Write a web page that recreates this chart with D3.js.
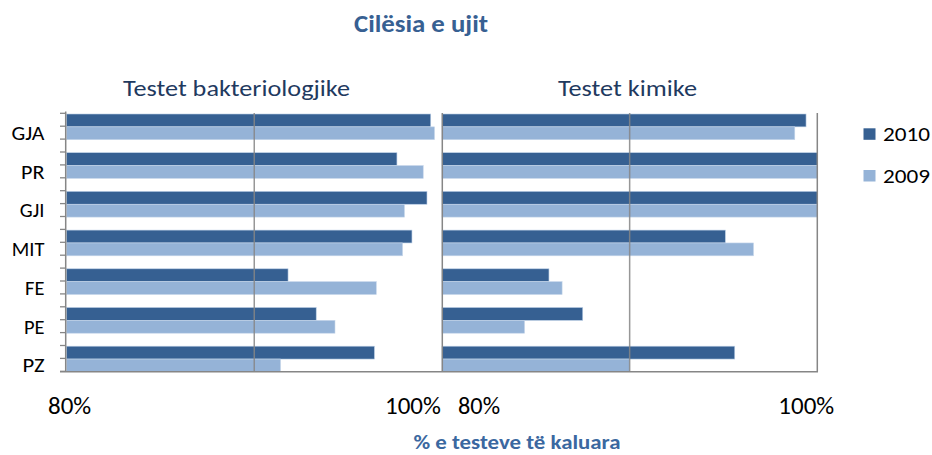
<!DOCTYPE html>
<html><head><meta charset="utf-8">
<script src="https://cdn.jsdelivr.net/npm/d3@7"></script>
<style>
html,body{margin:0;padding:0;background:#fff;}
svg{display:block;}
text{font-family:Carlito,Lato,"Liberation Sans",sans-serif;}
</style></head>
<body>
<script>
// ---- data ----
const categories = ["GJA","PR","GJI","MIT","FE","PE","PZ"];
const seriesNames = ["2010","2009"];
const bact2010 = [99.4, 97.6, 99.2, 98.4, 91.8, 93.3, 96.4];
const bact2009 = [99.6, 99.0, 98.0, 97.9, 96.5, 94.3, 91.4];
const chem2010 = [99.4, 100, 100, 95.1, 85.7, 87.5, 95.6];
const chem2009 = [98.8, 100, 100, 96.6, 86.4, 84.4, 90.0];
const xDomain = [80, 100];
const xTickLabels = ["80%", "100%"];
const panelTitles = ["Testet bakteriologjike", "Testet kimike"];
const chartTitle = "Cilësia e ujit";
const axisTitle = "% e testeve të kaluara";

const colors = {"2010":"#366092","2009":"#95B3D7"};
const W = 932, H = 455;
const plotTop = 113, plotBottom = 371.7;

const svg = d3.select("body").append("svg").attr("width", W).attr("height", H);

function fit(sel, w){
  sel.each(function(){
    const cur = this.getComputedTextLength();
    if (Math.abs(cur - w) > 1) d3.select(this).attr("textLength", w).attr("lengthAdjust","spacingAndGlyphs");
  });
  return sel;
}

const y = d3.scaleBand(categories, [107.5, 378.4]).paddingInner(0.336).paddingOuter(0.168);
const bh = y.bandwidth()/2;

const panels = [
  {x: d3.scaleLinear(xDomain, [66.5, 442]), s2010: bact2010, s2009: bact2009, title: panelTitles[0], tcx: 236.5, tw: 227},
  {x: d3.scaleLinear(xDomain, [442, 817.3]), s2010: chem2010, s2009: chem2009, title: panelTitles[1], tcx: 627.5, tw: 139}
];

svg.append("defs").append("clipPath").attr("id","plotclip")
  .append("rect").attr("x",0).attr("y",plotTop).attr("width",W).attr("height",plotBottom-plotTop);

const gray = "#868686";

panels.forEach((p, pi) => {
  const g = svg.append("g").attr("clip-path","url(#plotclip)");
  const rows = categories.map((c,i)=>({c, v2010:p.s2010[i], v2009:p.s2009[i]}));
  g.selectAll(".b10").data(rows).join("rect")
    .attr("x", p.x(80)).attr("y", d=>y(d.c))
    .attr("width", d=>p.x(d.v2010)-p.x(80)).attr("height", bh)
    .attr("fill", colors["2010"]).attr("stroke","#b9cde5").attr("stroke-width",0.6);
  g.selectAll(".b09").data(rows).join("rect")
    .attr("x", p.x(80)).attr("y", d=>y(d.c)+bh)
    .attr("width", d=>p.x(d.v2009)-p.x(80)).attr("height", bh)
    .attr("fill", colors["2009"]).attr("stroke","#c6d6ea").attr("stroke-width",0.6);
  svg.append("line").attr("x1",p.x(90)).attr("x2",p.x(90)).attr("y1",plotTop).attr("y2",plotBottom)
    .attr("stroke",gray).attr("stroke-width",1.5).attr("opacity",0.85);
  svg.append("text").attr("x",p.tcx).attr("y",96).attr("text-anchor","middle")
    .attr("font-size",23).attr("fill","#1F3A5F").text(p.title).call(fit, p.tw);
});

svg.append("line").attr("x1",65.7).attr("x2",65.7).attr("y1",111.5).attr("y2",plotBottom).attr("stroke",gray).attr("stroke-width",1.5);
svg.append("line").attr("x1",442.3).attr("x2",442.3).attr("y1",plotTop).attr("y2",plotBottom).attr("stroke",gray).attr("stroke-width",1.5);
svg.append("line").attr("x1",817.3).attr("x2",817.3).attr("y1",plotTop).attr("y2",plotBottom).attr("stroke",gray).attr("stroke-width",1.5);
svg.append("line").attr("x1",60).attr("x2",818).attr("y1",plotBottom).attr("y2",plotBottom).attr("stroke",gray).attr("stroke-width",1.5);
const tstep = y.step()/3;
const tickYs = d3.range(0, 21).map(k => y(categories[0]) - 0.7 + k*tstep).filter(v => v <= plotBottom);
svg.selectAll(".tk").data(tickYs).join("line")
  .attr("x1",60).attr("x2",66).attr("y1",d=>d).attr("y2",d=>d)
  .attr("stroke",gray).attr("stroke-width",1.3);

const catWidths = {GJA:33, PR:23.5, GJI:25, MIT:33, FE:19, PE:21, PZ:22};
svg.selectAll(".cat").data(categories).join("text")
  .attr("x",44.5).attr("y",c=>y(c)+26).attr("text-anchor","end")
  .attr("font-size",20.5).attr("fill","#000").text(c=>c)
  .each(function(c){ d3.select(this).call(fit, catWidths[c]); });

const tickPos = [
  {t:xTickLabels[0], x: panels[0].x(80)-18.5, w:44},
  {t:xTickLabels[1], x: panels[0].x(100)-57, w:55},
  {t:xTickLabels[0], x: panels[1].x(80)+16, w:42},
  {t:xTickLabels[1], x: panels[1].x(100)-39, w:56}
];
tickPos.forEach(d=>{
  svg.append("text").attr("x",d.x).attr("y",414).attr("font-size",25).attr("fill","#000")
    .text(d.t).call(fit, d.w);
});

svg.append("text").attr("x",421).attr("y",31.7).attr("text-anchor","middle")
  .attr("font-size",24).attr("font-weight","bold").attr("fill","#376092").text(chartTitle).call(fit,134);
svg.append("text").attr("x",517).attr("y",449).attr("text-anchor","middle")
  .attr("font-size",20.5).attr("font-weight","bold").attr("fill","#3B68A0").text(axisTitle).call(fit,207);

const leg = svg.selectAll(".leg").data(seriesNames).join("g")
  .attr("transform",(d,i)=>`translate(863.5,${128.3 + i*41.7})`);
leg.append("rect").attr("width",12).attr("height",11.5).attr("fill",d=>colors[d]);
leg.append("text").attr("x",19.5).attr("y",12.7).attr("font-size",21).attr("fill","#000")
  .text(d=>d).call(fit,47);
</script>
</body></html>
